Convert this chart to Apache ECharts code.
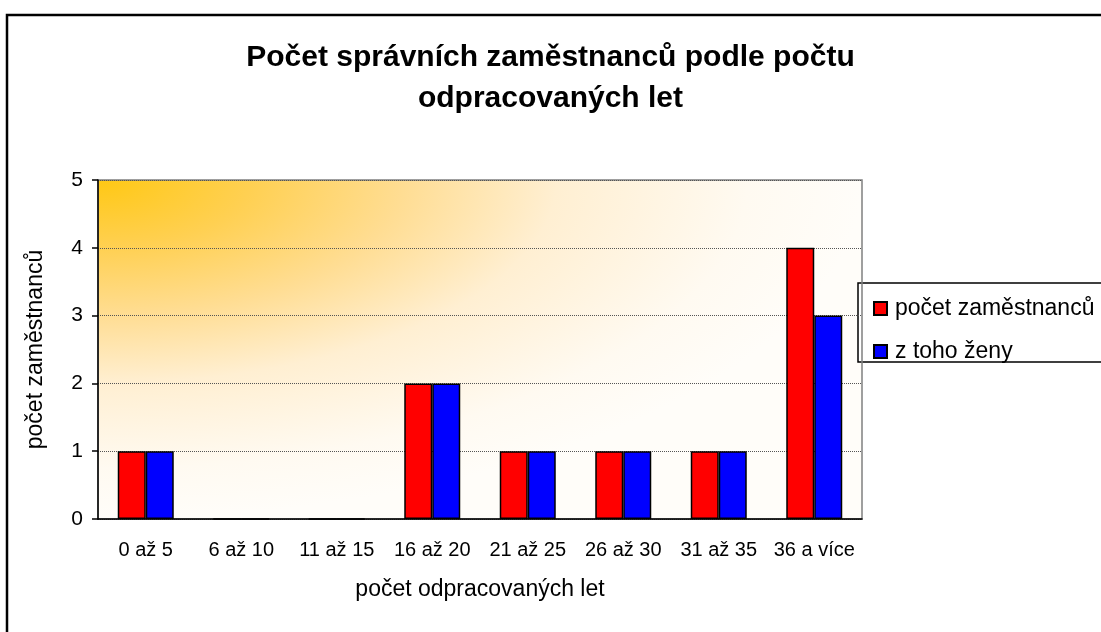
<!DOCTYPE html>
<html>
<head>
<meta charset="utf-8">
<script src="https://cdn.jsdelivr.net/npm/echarts@6/dist/echarts.min.js"></script>
<style>
    html, body { margin: 0; padding: 0; background: #fff; }
    #chart { width: 1101px; height: 632px; }
</style>
</head>
<body>
<div id="chart"></div>
<script>
var categories = ['0 až 5', '6 až 10', '11 až 15', '16 až 20', '21 až 25', '26 až 30', '31 až 35', '36 a více'];
var pocetZamestnancu = [1, 0, 0, 2, 1, 1, 1, 4];
var zTohoZeny = [1, 0, 0, 2, 1, 1, 1, 3];
var seriesNames = ['počet zaměstnanců', 'z toho ženy'];

var font = "'Liberation Sans', Arial, sans-serif";
var chart = echarts.init(document.getElementById('chart'));

// plot area (grid) in px, used for the background gradient too
var plot = { left: 98, top: 180, width: 764, height: 339 };

chart.setOption({
    animation: false,
    backgroundColor: '#ffffff',
    title: {
        text: 'Počet správních zaměstnanců podle počtu\nodpracovaných let',
        left: 'center',
        top: 32,
        textStyle: {
            fontFamily: font,
            fontSize: 30,
            fontWeight: 'bold',
            color: '#000',
            lineHeight: 41
        }
    },
    legend: {
        orient: 'vertical',
        left: 868,
        top: 292,
        itemWidth: 13,
        itemHeight: 13,
        itemGap: 20,
        icon: 'rect',
        textStyle: {
            fontFamily: font,
            fontSize: 23,
            color: '#000',
            lineHeight: 21,
            padding: [0, 0, 0, 3]
        },
        data: seriesNames
    },
    graphic: [
        {
            // plot background, elliptical gradient from the top-left corner
            type: 'rect',
            z: -1,
            x: plot.left,
            y: plot.top,
            scaleX: plot.width / plot.height,
            shape: { x: 0, y: 0, width: plot.height, height: plot.height },
            style: {
                fill: {
                    type: 'radial', x: 0, y: 0, r: 1,
                    colorStops: [
                        { offset: 0, color: '#FFC814' },
                        { offset: 0.2, color: '#FFD052' },
                        { offset: 0.4, color: '#FFDD93' },
                        { offset: 0.6, color: '#FFEFD2' },
                        { offset: 0.85, color: '#FFFAF1' },
                        { offset: 1, color: '#FFFDF9' }
                    ]
                }
            }
        },
        {
            // legend box
            type: 'rect',
            z: -1,
            shape: { x: 858, y: 283, width: 260, height: 79 },
            style: { fill: '#fff', stroke: '#000', lineWidth: 1.5 }
        },
        {
            // outer chart border
            type: 'rect',
            z: 10,
            shape: { x: 7, y: 15, width: 1120, height: 640 },
            style: { fill: null, stroke: '#000', lineWidth: 2.5 }
        }
    ],
    grid: {
        left: plot.left,
        top: plot.top,
        width: plot.width,
        height: plot.height,
        show: true,
        backgroundColor: 'transparent',
        borderColor: '#808080',
        borderWidth: 1.5
    },
    xAxis: {
        type: 'category',
        data: categories,
        name: 'počet odpracovaných let',
        nameLocation: 'middle',
        nameGap: 59,
        nameTextStyle: { fontFamily: font, fontSize: 23, color: '#000' },
        axisLine: { lineStyle: { color: '#000', width: 1.5 } },
        axisTick: { length: 7, lineStyle: { color: '#000', width: 1.5 } },
        axisLabel: { fontFamily: font, fontSize: 20, color: '#000', margin: 21, interval: 0 }
    },
    yAxis: {
        type: 'value',
        min: 0,
        max: 5,
        interval: 1,
        name: 'počet zaměstnanců',
        nameLocation: 'middle',
        nameGap: 51,
        nameTextStyle: { fontFamily: font, fontSize: 23, color: '#000' },
        axisLine: { show: true, lineStyle: { color: '#000', width: 1.5 } },
        axisTick: { show: true, length: 6, lineStyle: { color: '#000', width: 1.5 } },
        axisLabel: { fontFamily: font, fontSize: 21, color: '#000', margin: 15 },
        splitLine: { lineStyle: { color: '#555', type: 'dotted', width: 1 } }
    },
    series: [
        {
            name: seriesNames[0],
            type: 'bar',
            data: pocetZamestnancu,
            barWidth: 28,
            barGap: '0%',
            itemStyle: { color: '#FF0000', borderColor: '#000', borderWidth: 1.5 }
        },
        {
            name: seriesNames[1],
            type: 'bar',
            data: zTohoZeny,
            barWidth: 28,
            barGap: '0%',
            itemStyle: { color: '#0000FF', borderColor: '#000', borderWidth: 1.5 }
        }
    ]
});
</script>
</body>
</html>
